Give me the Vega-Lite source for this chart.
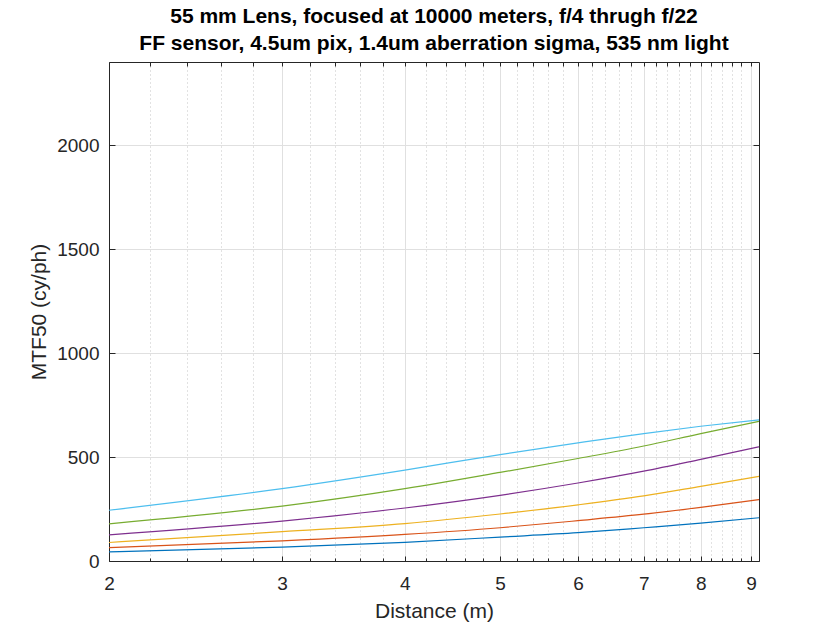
{
  "$schema": "https://vega.github.io/schema/vega-lite/v6.json",
  "width": 650,
  "height": 499,
  "autosize": {"type": "none"},
  "padding": {"left": 109, "top": 62, "right": 81, "bottom": 69},
  "background": "white",
  "config": {
    "view": {"stroke": null},
    "font": "Liberation Sans",
    "axis": {"domainColor": "#262626", "tickColor": "#262626", "labelColor": "#262626", "titleColor": "#262626", "labelFont": "Liberation Sans", "titleFont": "Liberation Sans", "titleFontWeight": "normal"}
  },
  "title": {
    "text": ["55 mm Lens, focused at 10000 meters, f/4 thrugh f/22", "FF sensor, 4.5um pix, 1.4um aberration sigma, 535 nm light"],
    "anchor": "middle",
    "frame": "group",
    "font": "Liberation Sans",
    "fontSize": 21,
    "fontWeight": "bold",
    "color": "#000000",
    "lineHeight": 27,
    "offset": 8
  },
  "data": {
    "values": [
      {"d": 2, "m": 44, "s": "f/4"}, {"d": 3, "m": 67, "s": "f/4"}, {"d": 4, "m": 90, "s": "f/4"}, {"d": 5, "m": 115, "s": "f/4"}, {"d": 6, "m": 136, "s": "f/4"}, {"d": 7, "m": 160, "s": "f/4"}, {"d": 8, "m": 182, "s": "f/4"}, {"d": 9.17, "m": 208, "s": "f/4"},
      {"d": 2, "m": 64, "s": "f/5.6"}, {"d": 3, "m": 97, "s": "f/5.6"}, {"d": 4, "m": 128, "s": "f/5.6"}, {"d": 5, "m": 160, "s": "f/5.6"}, {"d": 6, "m": 194, "s": "f/5.6"}, {"d": 7, "m": 225, "s": "f/5.6"}, {"d": 8, "m": 258, "s": "f/5.6"}, {"d": 9.17, "m": 295, "s": "f/5.6"},
      {"d": 2, "m": 89, "s": "f/8"}, {"d": 3, "m": 141, "s": "f/8"}, {"d": 4, "m": 180, "s": "f/8"}, {"d": 5, "m": 226, "s": "f/8"}, {"d": 6, "m": 270, "s": "f/8"}, {"d": 7, "m": 313, "s": "f/8"}, {"d": 8, "m": 359, "s": "f/8"}, {"d": 9.17, "m": 407, "s": "f/8"},
      {"d": 2, "m": 126, "s": "f/11"}, {"d": 3, "m": 192, "s": "f/11"}, {"d": 4, "m": 255, "s": "f/11"}, {"d": 5, "m": 316, "s": "f/11"}, {"d": 6, "m": 375, "s": "f/11"}, {"d": 7, "m": 432, "s": "f/11"}, {"d": 8, "m": 489, "s": "f/11"}, {"d": 9.17, "m": 549, "s": "f/11"},
      {"d": 2, "m": 179, "s": "f/16"}, {"d": 3, "m": 264, "s": "f/16"}, {"d": 4, "m": 348, "s": "f/16"}, {"d": 5, "m": 426, "s": "f/16"}, {"d": 6, "m": 493, "s": "f/16"}, {"d": 7, "m": 553, "s": "f/16"}, {"d": 8, "m": 613, "s": "f/16"}, {"d": 9.17, "m": 672, "s": "f/16"},
      {"d": 2, "m": 244, "s": "f/22"}, {"d": 3, "m": 348, "s": "f/22"}, {"d": 4, "m": 437, "s": "f/22"}, {"d": 5, "m": 512, "s": "f/22"}, {"d": 6, "m": 568, "s": "f/22"}, {"d": 7, "m": 613, "s": "f/22"}, {"d": 8, "m": 648, "s": "f/22"}, {"d": 9.17, "m": 679, "s": "f/22"}
    ]
  },
  "layer": [
    {
      "mark": {"type": "line", "strokeOpacity": 0},
      "encoding": {
        "x": {"field": "d", "type": "quantitative", "scale": {"type": "log", "domain": [2, 9.17], "nice": false},
          "axis": {"orient": "bottom", "values": [2.2, 2.4, 2.6, 2.8, 3.2, 3.4, 3.6, 3.8, 4.2, 4.4, 4.6, 4.8, 5.2, 5.4, 5.6, 5.8, 6.2, 6.4, 6.6, 6.8, 7.2, 7.4, 7.6, 7.8, 8.2, 8.4, 8.6, 8.8],
            "grid": true, "gridColor": "#c4c4c4", "gridDash": [1, 3], "gridWidth": 1, "labels": false, "domain": false, "tickSize": -3, "title": null}},
        "y": {"field": "m", "type": "quantitative", "scale": {"domain": [0, 2400], "nice": false}, "axis": null},
        "detail": {"field": "s"}
      }
    },
    {
      "mark": {"type": "line", "strokeOpacity": 0},
      "encoding": {
        "x": {"field": "d", "type": "quantitative",
          "axis": {"orient": "top", "values": [2, 2.2, 2.4, 2.6, 2.8, 3, 3.2, 3.4, 3.6, 3.8, 4, 4.2, 4.4, 4.6, 4.8, 5, 5.2, 5.4, 5.6, 5.8, 6, 6.2, 6.4, 6.6, 6.8, 7, 7.2, 7.4, 7.6, 7.8, 8, 8.2, 8.4, 8.6, 8.8, 9],
            "grid": false, "labels": false, "domain": true, "tickSize": -4, "title": null}},
        "y": {"field": "m", "type": "quantitative",
          "axis": {"orient": "right", "values": [0, 500, 1000, 1500, 2000], "grid": false, "labels": false, "domain": true, "tickSize": -6, "title": null}},
        "detail": {"field": "s"}
      }
    },
    {
      "mark": {"type": "line", "strokeWidth": 1.2, "interpolate": "monotone"},
      "encoding": {
        "x": {"field": "d", "type": "quantitative",
          "axis": {"orient": "bottom", "values": [2, 3, 4, 5, 6, 7, 8, 9], "format": "d", "grid": true, "gridColor": "#e0e0e0", "gridWidth": 1,
            "tickSize": -5, "labelPadding": 18, "labelFontSize": 19, "title": "Distance (m)", "titleFontSize": 21, "titlePadding": 7, "labelFlush": false}},
        "y": {"field": "m", "type": "quantitative",
          "axis": {"orient": "left", "values": [0, 500, 1000, 1500, 2000], "format": "d", "grid": true, "gridColor": "#e0e0e0", "gridWidth": 1,
            "tickSize": -6, "labelPadding": 16, "labelFontSize": 19, "title": "MTF50 (cy/ph)", "titleFontSize": 21, "titlePadding": 7}},
        "color": {"field": "s", "type": "nominal", "sort": ["f/4", "f/5.6", "f/8", "f/11", "f/16", "f/22"],
          "scale": {"domain": ["f/4", "f/5.6", "f/8", "f/11", "f/16", "f/22"], "range": ["#0072BD", "#D95319", "#EDB120", "#7E2F8E", "#77AC30", "#4DBEEE"]},
          "legend": null}
      }
    }
  ],
  "resolve": {"axis": {"x": "independent", "y": "independent"}}
}
